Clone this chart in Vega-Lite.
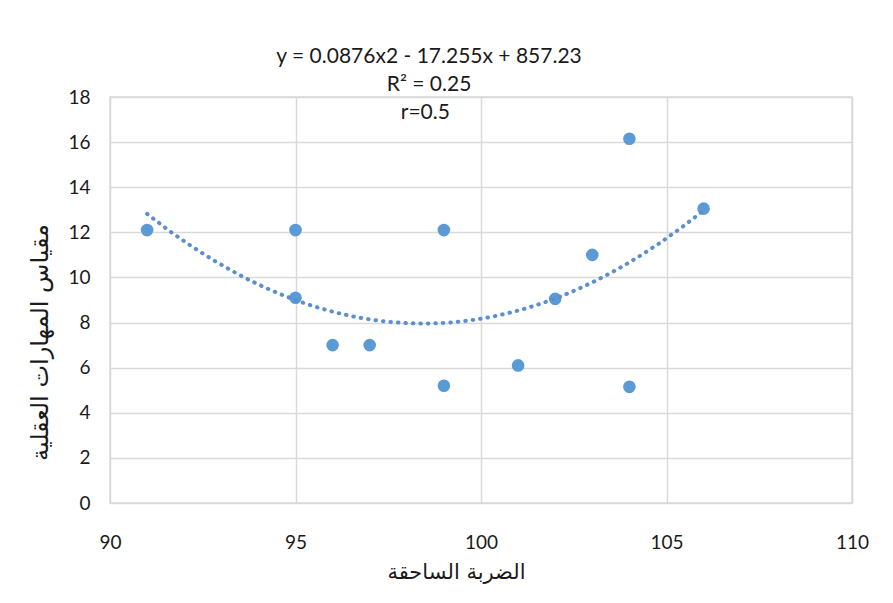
{
  "$schema": "https://vega.github.io/schema/vega-lite/v6.json",
  "autosize": {"type": "none"},
  "width": 742,
  "height": 406,
  "padding": {"left": 110, "top": 97, "right": 41, "bottom": 100},
  "background": "white",
  "config": {
    "view": {"stroke": "#d9d9d9", "strokeWidth": 1.5},
    "axis": {
      "grid": true,
      "gridColor": "#d9d9d9",
      "gridWidth": 1.5,
      "domain": false,
      "ticks": false,
      "labelFont": "Lato",
      "labelFontSize": 19,
      "labelColor": "#1a1a1a",
      "labelFlush": false,
      "titleFont": "DejaVu Sans",
      "titleFontWeight": "normal",
      "titleColor": "#1a1a1a"
    }
  },
  "datasets": {
    "points": [
      {"x": 91, "y": 12.1},
      {"x": 95, "y": 12.1},
      {"x": 95, "y": 9.1},
      {"x": 96, "y": 7.0},
      {"x": 97, "y": 7.0},
      {"x": 99, "y": 12.1},
      {"x": 99, "y": 5.2},
      {"x": 101, "y": 6.1},
      {"x": 102, "y": 9.05},
      {"x": 103, "y": 11.0},
      {"x": 104, "y": 16.15},
      {"x": 104, "y": 5.15},
      {"x": 106, "y": 13.05}
    ],
    "labels": [
      {"x": 98.6, "y": 19.78, "text": "y = 0.0876x2 - 17.255x + 857.23"},
      {"x": 98.6, "y": 18.53, "text": "R² = 0.25"},
      {"x": 98.5, "y": 17.29, "text": "r=0.5"}
    ]
  },
  "layer": [
    {
      "data": {"name": "points"},
      "mark": {"type": "point", "filled": true, "size": 160, "color": "#5b9bd5", "opacity": 1},
      "encoding": {
        "x": {
          "field": "x", "type": "quantitative",
          "scale": {"domain": [90, 110], "nice": false, "zero": false},
          "axis": {"values": [90, 95, 100, 105, 110], "title": "الضربة الساحقة", "titleFontSize": 21, "labelPadding": 30, "titleX": 346, "titleY": 58}
        },
        "y": {
          "field": "y", "type": "quantitative",
          "scale": {"domain": [0, 18], "nice": false},
          "axis": {"values": [0, 2, 4, 6, 8, 10, 12, 14, 16, 18], "title": "مقياس المهارات العقلية", "titleFontSize": 24, "labelPadding": 20, "titleX": -58, "titleY": 245}
        }
      }
    },
    {
      "data": {"name": "points"},
      "transform": [
        {"regression": "y", "on": "x", "method": "poly", "order": 2, "extent": [91, 106]}
      ],
      "mark": {"type": "line", "color": "#5b8fcf", "strokeWidth": 4, "strokeDash": [0.5, 7], "strokeCap": "round"},
      "encoding": {
        "x": {"field": "x", "type": "quantitative"},
        "y": {"field": "y", "type": "quantitative"}
      }
    },
    {
      "data": {"name": "labels"},
      "mark": {"type": "text", "font": "Lato", "fontSize": 21, "color": "#1a1a1a", "clip": false, "align": "center", "baseline": "middle"},
      "encoding": {
        "x": {"field": "x", "type": "quantitative"},
        "y": {"field": "y", "type": "quantitative"},
        "text": {"field": "text"}
      }
    }
  ]
}
